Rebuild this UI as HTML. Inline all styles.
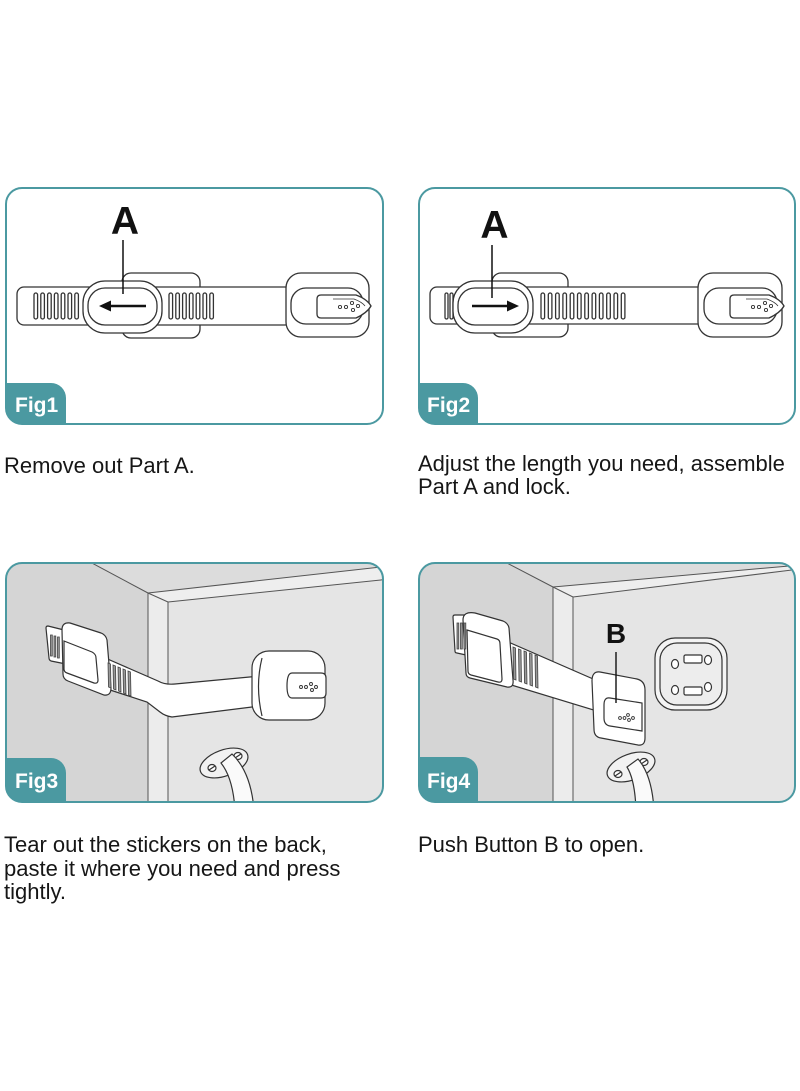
<!DOCTYPE html>
<html>
<head>
<meta charset="utf-8">
<style>
  html,body{margin:0;padding:0;background:#fff;}
  svg{display:block;}
  .cap{font-family:"Liberation Sans",Arial,sans-serif;font-size:22px;fill:#161616;}
  .fig{font-family:"Liberation Sans",Arial,sans-serif;font-size:21px;font-weight:bold;fill:#fff;}
  .big{font-family:"Liberation Sans",Arial,sans-serif;font-weight:bold;fill:#111;}
</style>
</head>
<body>
<svg width="800" height="1091" viewBox="0 0 800 1091" xmlns="http://www.w3.org/2000/svg">
  <defs>
    <clipPath id="c1"><rect x="6" y="188" width="377" height="236" rx="16"/></clipPath>
    <clipPath id="c2"><rect x="419" y="188" width="376" height="236" rx="16"/></clipPath>
    <clipPath id="c3"><rect x="6" y="563" width="377" height="239" rx="16"/></clipPath>
    <clipPath id="c4"><rect x="419" y="563" width="376" height="239" rx="16"/></clipPath>
  </defs>

  <!-- ================= FIG 1 ================= -->
  <rect x="6" y="188" width="377" height="236" rx="16" fill="#fff"/>
  <g clip-path="url(#c1)">
    <g fill="#fff" stroke="#333" stroke-width="1.3">
      <rect x="122" y="273" width="78" height="65" rx="9"/>
      <rect x="17" y="287" width="275" height="38" rx="7"/>
      <!-- ribs left -->
      <rect x="34" y="293" width="3.6" height="26" rx="1.8"/>
      <rect x="40.8" y="293" width="3.6" height="26" rx="1.8"/>
      <rect x="47.6" y="293" width="3.6" height="26" rx="1.8"/>
      <rect x="54.4" y="293" width="3.6" height="26" rx="1.8"/>
      <rect x="61.2" y="293" width="3.6" height="26" rx="1.8"/>
      <rect x="68" y="293" width="3.6" height="26" rx="1.8"/>
      <rect x="74.8" y="293" width="3.6" height="26" rx="1.8"/>
      <!-- ribs right -->
      <rect x="169" y="293" width="3.6" height="26" rx="1.8"/>
      <rect x="175.8" y="293" width="3.6" height="26" rx="1.8"/>
      <rect x="182.6" y="293" width="3.6" height="26" rx="1.8"/>
      <rect x="189.4" y="293" width="3.6" height="26" rx="1.8"/>
      <rect x="196.2" y="293" width="3.6" height="26" rx="1.8"/>
      <rect x="203" y="293" width="3.6" height="26" rx="1.8"/>
      <rect x="209.8" y="293" width="3.6" height="26" rx="1.8"/>
      <!-- slider -->
      <rect x="83" y="281" width="79" height="52" rx="22"/>
      <rect x="88" y="288" width="69" height="37" rx="17"/>
      <!-- handle -->
      <rect x="286" y="273" width="83" height="64" rx="15"/>
      <rect x="291" y="288" width="72" height="36" rx="15"/>
      <path d="M321,295 H356 Q367,299 371,306 Q367,313 356,318 H321 Q317,318 317,314 V299 Q317,295 321,295 Z"/>
      <path d="M333,299 H354 Q362,302 365,306" fill="none" stroke-width="0.8"/>
    </g>
    <g fill="none" stroke="#333" stroke-width="0.9">
      <circle cx="340" cy="307" r="1.6"/><circle cx="346" cy="307" r="1.6"/>
      <circle cx="352" cy="303" r="1.6"/><circle cx="353" cy="310" r="1.6"/><circle cx="358" cy="306" r="1.6"/>
    </g>
    <!-- arrow -->
    <line x1="146" y1="306" x2="108" y2="306" stroke="#111" stroke-width="2.6"/>
    <polygon points="99,306 111,300.5 111,311.5" fill="#111"/>
    <!-- leader -->
    <line x1="123" y1="240" x2="123" y2="294" stroke="#111" stroke-width="1.5"/>
    <text x="125" y="234" text-anchor="middle" class="big" font-size="39">A</text>
    <!-- tab -->
    <path d="M6,383 H51 A15,15 0 0 1 66,398 V424 H6 Z" fill="#4b99a1"/>
  </g>
  <text x="15" y="412" class="fig">Fig1</text>
  <rect x="6" y="188" width="377" height="236" rx="16" fill="none" stroke="#4b99a1" stroke-width="2"/>

  <!-- ================= FIG 2 ================= -->
  <rect x="419" y="188" width="376" height="236" rx="16" fill="#fff"/>
  <g clip-path="url(#c2)">
    <g fill="#fff" stroke="#333" stroke-width="1.3">
      <rect x="492" y="273" width="76" height="64" rx="9"/>
      <rect x="430" y="287" width="275" height="37" rx="7"/>
      <rect x="445" y="293" width="3" height="26" rx="1.5"/>
      <rect x="450" y="293" width="3" height="26" rx="1.5"/>
      <!-- right ribs (12) -->
      <rect x="541" y="293" width="3.6" height="26" rx="1.8"/>
      <rect x="548.3" y="293" width="3.6" height="26" rx="1.8"/>
      <rect x="555.6" y="293" width="3.6" height="26" rx="1.8"/>
      <rect x="562.9" y="293" width="3.6" height="26" rx="1.8"/>
      <rect x="570.2" y="293" width="3.6" height="26" rx="1.8"/>
      <rect x="577.5" y="293" width="3.6" height="26" rx="1.8"/>
      <rect x="584.8" y="293" width="3.6" height="26" rx="1.8"/>
      <rect x="592.1" y="293" width="3.6" height="26" rx="1.8"/>
      <rect x="599.4" y="293" width="3.6" height="26" rx="1.8"/>
      <rect x="606.7" y="293" width="3.6" height="26" rx="1.8"/>
      <rect x="614" y="293" width="3.6" height="26" rx="1.8"/>
      <rect x="621.3" y="293" width="3.6" height="26" rx="1.8"/>
      <!-- slider -->
      <rect x="453" y="281" width="80" height="52" rx="22"/>
      <rect x="458" y="288" width="70" height="37" rx="17"/>
      <!-- handle -->
      <rect x="698" y="273" width="84" height="64" rx="15"/>
      <rect x="704" y="288" width="73" height="36" rx="15"/>
      <path d="M734,295 H769 Q780,299 784,306 Q780,313 769,318 H734 Q730,318 730,314 V299 Q730,295 734,295 Z"/>
      <path d="M746,299 H767 Q775,302 778,306" fill="none" stroke-width="0.8"/>
    </g>
    <g fill="none" stroke="#333" stroke-width="0.9">
      <circle cx="753" cy="307" r="1.6"/><circle cx="759" cy="307" r="1.6"/>
      <circle cx="765" cy="303" r="1.6"/><circle cx="766" cy="310" r="1.6"/><circle cx="771" cy="306" r="1.6"/>
    </g>
    <line x1="472" y1="306" x2="510" y2="306" stroke="#111" stroke-width="2.6"/>
    <polygon points="519,306 507,300.5 507,311.5" fill="#111"/>
    <line x1="492" y1="245" x2="492" y2="298" stroke="#111" stroke-width="1.5"/>
    <text x="494.5" y="238" text-anchor="middle" class="big" font-size="39">A</text>
    <path d="M419,383 H463 A15,15 0 0 1 478,398 V424 H419 Z" fill="#4b99a1"/>
  </g>
  <text x="427" y="412" class="fig">Fig2</text>
  <rect x="419" y="188" width="376" height="236" rx="16" fill="none" stroke="#4b99a1" stroke-width="2"/>

  <!-- ================= FIG 3 ================= -->
  <g clip-path="url(#c3)">
    <rect x="0" y="560" width="390" height="250" fill="#d5d5d5"/>
    <polygon points="90,562 390,562 390,566 148,593" fill="#dcdcdc"/>
    <polygon points="148,593 390,566 390,579 168,602" fill="#eeeeee"/>
    <polygon points="148,593 168,602 168,810 148,810" fill="#ececec"/>
    <polygon points="168,602 390,579 390,810 168,810" fill="#e5e5e5"/>
    <g stroke="#555" stroke-width="1" fill="none">
      <line x1="90" y1="562" x2="148" y2="593"/>
      <line x1="148" y1="593" x2="148" y2="810"/>
      <line x1="168" y1="602" x2="168" y2="810"/>
      <line x1="148" y1="593" x2="390" y2="566"/>
      <line x1="168" y1="602" x2="390" y2="579"/>
      <line x1="148" y1="593" x2="168" y2="602"/>
    </g>
    <!-- strap -->
    <g fill="#fff" stroke="#333" stroke-width="1.2">
      <path d="M48,626 L64,630 Q66,631 66,633 L68,662 Q68,664 66,664 L51,661 Q49,660 49,658 L46,628 Q46,626 48,626 Z"/>
      <path d="M103,657 L158,681 Q165,685 175,684 L260,676 L260,706 L172,717 Q165,716 160,712 L147,702 L104,688 Z"/>
      <path d="M70,623 L101,633 Q106,635 107,640 L111,688 Q111,696 104,695 L68,681 Q63,679 63,674 L62,630 Q62,622 70,623 Z"/>
      <path d="M64,641 L92,652 Q96,654 96,658 L98,680 Q98,684 94,683 L67,673 Q64,672 64,669 Z"/>
    </g>
    <g fill="#999" stroke="#444" stroke-width="0.8">
      <rect x="50.5" y="635" width="1.8" height="21"/>
      <rect x="54" y="636" width="1.8" height="21"/>
      <rect x="57.5" y="637" width="1.8" height="21"/>
      <polygon points="108,663 110.5,664 111,688 108.5,687"/>
      <polygon points="113,665 115.5,666 116,690 113.5,689"/>
      <polygon points="118,667 120.5,668 121,692 118.5,691"/>
      <polygon points="123,669 125.5,670 126,694 123.5,693"/>
      <polygon points="128,671 130.5,672 131,696 128.5,695"/>
    </g>
    <!-- right handle -->
    <g fill="#fff" stroke="#333" stroke-width="1.2">
      <rect x="252" y="651" width="73" height="69" rx="17"/>
      <path d="M262,658 Q255,686 262,716" fill="none"/>
      <path d="M292,673 H321 Q326,673 326,678 V693 Q326,698 321,698 H292 Q287,698 287,686 Q287,673 292,673 Z"/>
    </g>
    <g fill="none" stroke="#333" stroke-width="0.9">
      <circle cx="301" cy="687" r="1.5"/><circle cx="306" cy="687" r="1.5"/>
      <circle cx="311" cy="684" r="1.5"/><circle cx="312" cy="690" r="1.5"/><circle cx="316" cy="687" r="1.5"/>
    </g>
    <!-- hinge -->
    <g stroke="#333" stroke-width="1.2">
      <ellipse cx="224" cy="763" rx="25" ry="13" transform="rotate(-20 224 763)" fill="#f2f2f2"/>
      <ellipse cx="212" cy="768" rx="4" ry="3.5" fill="#fff"/>
      <ellipse cx="238" cy="756" rx="4" ry="3.5" fill="#fff"/>
      <line x1="209" y1="770" x2="215" y2="766"/>
      <line x1="235" y1="758" x2="241" y2="754"/>
      <path d="M221,763 Q233,778 235,810 L254,810 Q251,772 232,754 Z" fill="#fafafa"/>
    </g>
    <path d="M6,758 H51 A15,15 0 0 1 66,773 V802 H6 Z" fill="#4b99a1"/>
  </g>
  <text x="15" y="788" class="fig">Fig3</text>
  <rect x="6" y="563" width="377" height="239" rx="16" fill="none" stroke="#4b99a1" stroke-width="2"/>

  <!-- ================= FIG 4 ================= -->
  <g clip-path="url(#c4)">
    <rect x="410" y="560" width="400" height="250" fill="#d5d5d5"/>
    <polygon points="505,562 800,562 800,565 553,587" fill="#dcdcdc"/>
    <polygon points="553,587 800,565 800,570 573,597" fill="#eeeeee"/>
    <polygon points="553,587 573,597 573,810 553,810" fill="#ececec"/>
    <polygon points="573,597 800,570 800,810 573,810" fill="#e5e5e5"/>
    <g stroke="#555" stroke-width="1" fill="none">
      <line x1="505" y1="562" x2="553" y2="587"/>
      <line x1="553" y1="587" x2="553" y2="810"/>
      <line x1="573" y1="597" x2="573" y2="810"/>
      <line x1="553" y1="587" x2="800" y2="565"/>
      <line x1="573" y1="597" x2="800" y2="569"/>
      <line x1="553" y1="587" x2="573" y2="597"/>
    </g>
    <!-- strap -->
    <g fill="#fff" stroke="#333" stroke-width="1.2">
      <path d="M455,615 L466,615 Q468,615 468,617 L469,652 Q469,655 466,655 L457,653 Q455,653 455,651 L453,617 Q453,615 455,615 Z"/>
      <path d="M506,641 L600,682 L600,712 L508,684 Z"/>
      <path d="M475,613 L503,621 Q508,623 509,628 L513,680 Q514,688 507,687 L470,678 Q466,677 466,673 L463,620 Q463,611 475,613 Z"/>
      <path d="M467,630 L497,639 Q500,640 500,644 L502,679 Q502,683 498,682 L471,675 Q468,674 468,671 Z"/>
    </g>
    <g fill="#999" stroke="#444" stroke-width="0.8">
      <rect x="457" y="623" width="1.8" height="26"/>
      <rect x="460.5" y="623" width="1.8" height="26"/>
      <rect x="464" y="623" width="1.8" height="26"/>
      <polygon points="513,647 515.5,648 516,680 513.5,679"/>
      <polygon points="518.5,649 521,650 521.5,682 519,681"/>
      <polygon points="524,651 526.5,652 527,684 524.5,683"/>
      <polygon points="529.5,653 532,654 532.5,686 530,685"/>
      <polygon points="535,655 537.5,656 538,688 535.5,687"/>
    </g>
    <!-- handle -->
    <g fill="#fff" stroke="#333" stroke-width="1.2">
      <path d="M600,672 L637,679 Q645,681 645,690 L645,738 Q645,746 638,745 L601,738 Q594,737 594,729 L592,681 Q592,671 600,672 Z"/>
      <path d="M610,698 L642,703 L642,731 L610,726 Q604,725 604,718 V705 Q604,697 610,698 Z"/>
    </g>
    <g fill="none" stroke="#333" stroke-width="0.9">
      <circle cx="620" cy="718" r="1.4"/><circle cx="624.5" cy="718" r="1.4"/>
      <circle cx="628" cy="715" r="1.4"/><circle cx="629" cy="720" r="1.4"/><circle cx="633" cy="718" r="1.4"/>
    </g>
    <line x1="616" y1="652" x2="616" y2="703" stroke="#111" stroke-width="1.4"/>
    <text x="616" y="643" text-anchor="middle" class="big" font-size="28">B</text>
    <!-- sticker plate -->
    <g fill="#f4f4f4" stroke="#333" stroke-width="1.2">
      <rect x="655" y="638" width="72" height="72" rx="20"/>
      <rect x="660" y="643" width="62" height="62" rx="17" fill="#ededed"/>
      <ellipse cx="675" cy="664" rx="3.5" ry="4.5" fill="#fff"/>
      <ellipse cx="708" cy="660" rx="3.5" ry="4.5" fill="#fff"/>
      <ellipse cx="675" cy="690" rx="3.5" ry="4.5" fill="#fff"/>
      <ellipse cx="708" cy="687" rx="3.5" ry="4.5" fill="#fff"/>
      <rect x="684" y="655" width="18" height="8" rx="1.5" fill="#fff"/>
      <rect x="684" y="687" width="18" height="8" rx="1.5" fill="#fff"/>
    </g>
    <!-- hinge -->
    <g stroke="#333" stroke-width="1.2">
      <ellipse cx="631" cy="767" rx="25" ry="13" transform="rotate(-20 631 767)" fill="#f2f2f2"/>
      <ellipse cx="618" cy="774" rx="4" ry="3.5" fill="#fff"/>
      <ellipse cx="644" cy="762" rx="4" ry="3.5" fill="#fff"/>
      <line x1="615" y1="776" x2="621" y2="772"/>
      <line x1="641" y1="764" x2="647" y2="760"/>
      <path d="M627,767 Q635,780 636,810 L654,810 Q652,775 638,759 Z" fill="#fafafa"/>
    </g>
    <path d="M419,757 H463 A15,15 0 0 1 478,772 V802 H419 Z" fill="#4b99a1"/>
  </g>
  <text x="427" y="788" class="fig">Fig4</text>
  <rect x="419" y="563" width="376" height="239" rx="16" fill="none" stroke="#4b99a1" stroke-width="2"/>

  <!-- ================= CAPTIONS ================= -->
  <text x="4" y="473" class="cap">Remove out Part A.</text>
  <text x="418" y="471" class="cap">Adjust the length you need, assemble</text>
  <text x="418" y="494" class="cap">Part A and lock.</text>

  <text x="4" y="852" class="cap">Tear out the stickers on the back,</text>
  <text x="4" y="876" class="cap">paste it where you need and press</text>
  <text x="4" y="899" class="cap">tightly.</text>
  <text x="418" y="852" class="cap">Push Button B to open.</text>
</svg>
</body>
</html>
